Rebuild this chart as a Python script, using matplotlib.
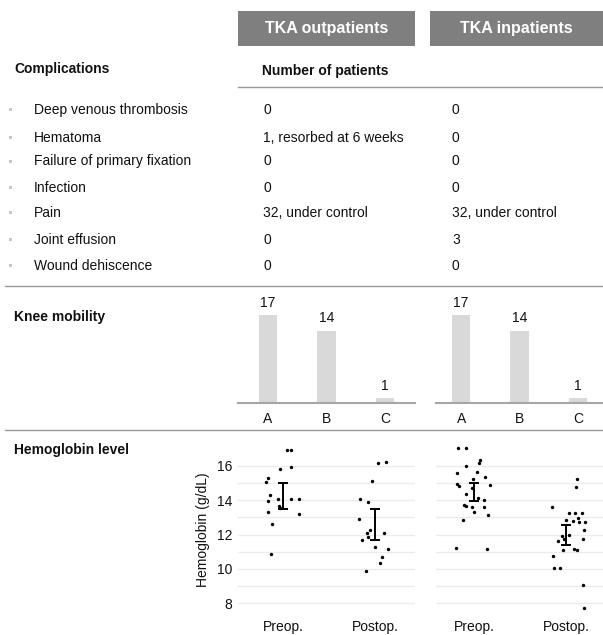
import numpy as np
import matplotlib.pyplot as plt
from matplotlib.patches import Rectangle
from matplotlib.lines import Line2D

plt.rcParams['font.family'] = ['Liberation Sans', 'DejaVu Sans']

W, H = 603, 635

# ---- data ----
groups = ["TKA outpatients", "TKA inpatients"]

complications = ["Deep venous thrombosis", "Hematoma", "Failure of primary fixation",
                 "Infection", "Pain", "Joint effusion", "Wound dehiscence"]
outpatient_counts = ["0", "1, resorbed at 6 weeks", "0", "0", "32, under control", "0", "0"]
inpatient_counts = ["0", "0", "0", "0", "32, under control", "3", "0"]

mobility_cats = ["A", "B", "C"]
mobility_out = [17, 14, 1]
mobility_in = [17, 14, 1]

hb_cats = ["Preop.", "Postop."]

# outpatients
hb_out_pre = [16.9, 16.9, 15.84, 15.94, 15.28, 15.07, 14.29, 13.94, 14.1, 14.05, 14.05,
              13.65, 13.53, 13.34, 13.18, 12.62, 10.87]
hb_out_pre_jit = [0.04, 0.08, -0.03, 0.09, -0.17, -0.19, -0.14, -0.17, -0.06, 0.08, 0.17,
                  -0.04, -0.03, -0.16, 0.17, -0.12, -0.13]
hb_out_post = [16.15, 16.22, 15.12, 14.07, 13.88, 12.89, 12.27, 12.1, 12.1, 11.86, 11.71,
               11.26, 11.14, 10.7, 10.37, 9.88]
hb_out_post_jit = [0.03, 0.11, -0.04, -0.17, -0.08, -0.18, -0.06, -0.09, 0.09, -0.08, -0.14,
                   0.0, 0.14, 0.07, 0.05, -0.10]

# inpatients
hb_in_pre = [17.03, 17.02, 16.36, 16.19, 16.01, 15.58, 15.64, 15.37, 15.22, 14.94, 14.83,
             14.87, 14.73, 14.34, 14.15, 14.03, 13.74, 13.66, 13.6, 13.59, 13.3, 13.14,
             12.83, 11.22, 11.16]
hb_in_pre_jit = [-0.17, -0.09, 0.07, 0.06, -0.09, -0.18, 0.03, 0.12, -0.01, -0.18, -0.16,
                 0.18, -0.02, -0.09, 0.05, 0.11, -0.11, -0.09, -0.02, 0.11, 0.0, 0.15,
                 -0.12, -0.19, 0.14]
hb_in_post = [15.22, 14.79, 13.59, 13.28, 13.28, 13.28, 12.99, 12.85, 12.77, 12.71, 12.74,
              12.27, 11.92, 11.96, 11.77, 11.65, 11.72, 11.1, 11.19, 11.09, 10.74, 10.04,
              10.04, 9.07, 7.7]
hb_in_post_jit = [0.12, 0.11, -0.15, 0.03, 0.10, 0.17, 0.13, 0.0, 0.08, 0.14, 0.21,
                  0.19, -0.04, 0.03, -0.02, -0.09, 0.18, -0.03, 0.09, 0.12, -0.14, -0.13,
                  -0.07, 0.18, 0.19]

# error bars (low, high) per category
hb_out_err_lo = [13.5, 11.69]
hb_out_err_hi = [15.0, 13.49]
hb_in_err_lo = [13.98, 11.4]
hb_in_err_hi = [15.0, 12.56]

row_y = [110, 138, 161.5, 188, 213, 240, 266.5]

BOX = '#7f7f7f'
SEP = '#999999'
BAR = '#d9d9d9'
TXT = '#111111'


def fx(x):
    return x / W


def fy(y):
    return 1 - y / H


def px_axes(fig, x0, y0, x1, y1):
    return fig.add_axes([x0 / W, 1 - y1 / H, (x1 - x0) / W, (y1 - y0) / H])


def hline(fig, x0, x1, y, color=SEP, lw=1.0):
    fig.add_artist(Line2D([fx(x0), fx(x1)], [fy(y), fy(y)], color=color, lw=lw,
                          transform=fig.transFigure))


def draw_bars(ax, vals, xlim):
    x = np.arange(len(mobility_cats))
    bars = ax.bar(x, vals, width=0.32, color=BAR)
    ax.bar_label(bars, labels=[str(v) for v in vals], padding=4, fontsize=10, color=TXT)
    ax.set_xlim(*xlim)
    ax.set_ylim(0, (403.3 - 290) / 5.18)
    for s in ['top', 'right', 'left']:
        ax.spines[s].set_visible(False)
    ax.spines['bottom'].set_color('#a6a6a6')
    ax.spines['bottom'].set_linewidth(1.5)
    ax.set_yticks([])
    ax.set_xticks(x, mobility_cats)
    ax.tick_params(axis='x', length=0, pad=6, labelsize=10, labelcolor=TXT)
    ax.patch.set_alpha(0)


def draw_hb(ax, pre, pre_jit, post, post_jit, lo, hi, xlim, labels=True):
    ax.scatter(0 + np.array(pre_jit), pre, s=6, color='black', zorder=3, linewidths=0)
    ax.scatter(1 + np.array(post_jit), post, s=6, color='black', zorder=3, linewidths=0)
    lo = np.array(lo)
    hi = np.array(hi)
    ax.errorbar([0, 1], (lo + hi) / 2, yerr=(hi - lo) / 2, fmt='none', ecolor='black',
                elinewidth=1.4, capsize=3.6, capthick=1.4, zorder=4)
    ax.set_xlim(*xlim)
    ax.set_ylim(8 - (612 - 603.3) / 17.2, 16 + (466 - 437) / 17.2)
    ax.set_yticks([8, 10, 12, 14, 16])
    ax.set_yticks([9, 11, 13, 15], minor=True)
    ax.grid(True, which='both', axis='y', color='#ebebeb', lw=1)
    ax.set_axisbelow(True)
    for s in ax.spines.values():
        s.set_visible(False)
    ax.set_xticks([0, 1], hb_cats)
    ax.tick_params(axis='both', which='both', length=0, labelsize=10, labelcolor=TXT)
    ax.tick_params(axis='x', pad=6)
    ax.tick_params(axis='y', pad=4)
    if not labels:
        ax.set_yticklabels([])
    ax.patch.set_alpha(0)


fig = plt.figure(figsize=(W / 100, H / 100), dpi=100)

# header boxes
for (x0, x1), name in zip([(238, 415), (430, 603)], groups):
    fig.add_artist(Rectangle((fx(x0), fy(46)), (x1 - x0) / W, 35 / H, color=BOX,
                             transform=fig.transFigure, lw=0))
    fig.text(fx((x0 + x1) / 2), fy(28.5), name, ha='center', va='center',
             fontsize=11.5, fontweight='bold', color='white')

# complications table
fig.text(fx(14), fy(69.5), "Complications", fontsize=10, fontweight='bold', va='center', color=TXT)
fig.text(fx(262), fy(70.5), "Number of patients", fontsize=10, fontweight='bold', va='center', color=TXT)
hline(fig, 238, 603, 87)

for y, name, a, b in zip(row_y, complications, outpatient_counts, inpatient_counts):
    fig.add_artist(Rectangle((fx(8.5), fy(y + 1)), 3 / W, 3 / H, color='#c8c8c8',
                             transform=fig.transFigure, lw=0))
    fig.text(fx(34), fy(y), name, fontsize=10, va='center', color=TXT)
    fig.text(fx(263), fy(y), a, fontsize=10, va='center', color=TXT)
    fig.text(fx(452), fy(y), b, fontsize=10, va='center', color=TXT)

hline(fig, 5, 603, 286)

# knee mobility
fig.text(fx(14), fy(317), "Knee mobility", fontsize=10, fontweight='bold', va='center', color=TXT)
ax1 = px_axes(fig, 238, 290, 415, 403.3)
draw_bars(ax1, mobility_out, (-0.51, 2.51))
ax2 = px_axes(fig, 436, 290, 603, 403.3)
draw_bars(ax2, mobility_in, (-0.43, 2.43))

hline(fig, 5, 603, 430)

# hemoglobin
fig.text(fx(14), fy(450), "Hemoglobin level", fontsize=10, fontweight='bold', va='center', color=TXT)
ax3 = px_axes(fig, 238, 437, 415, 612)
draw_hb(ax3, hb_out_pre, hb_out_pre_jit, hb_out_post, hb_out_post_jit,
        hb_out_err_lo, hb_out_err_hi, (-0.49, 1.43))
ax4 = px_axes(fig, 436, 437, 603, 612)
draw_hb(ax4, hb_in_pre, hb_in_pre_jit, hb_in_post, hb_in_post_jit,
        hb_in_err_lo, hb_in_err_hi, (-0.41, 1.40), labels=False)
fig.text(fx(203), fy(530), "Hemoglobin (g/dL)", rotation=90, fontsize=10,
         ha='center', va='center', color=TXT)

fig.savefig('out.png', dpi=100)
